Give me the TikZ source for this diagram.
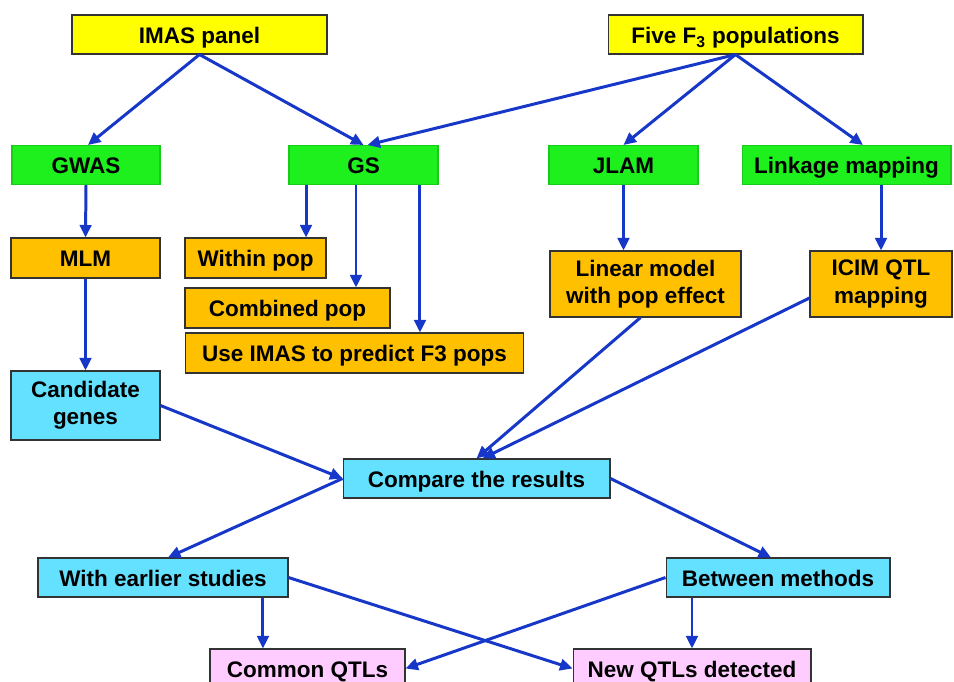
\documentclass[tikz,border=0pt]{standalone}
\usepackage{fontspec}
\setmainfont{Liberation Sans}
\usetikzlibrary{arrows.meta}
\definecolor{boxyellow}{RGB}{255,255,0}
\definecolor{boxgreen}{RGB}{30,240,30}
\definecolor{boxorange}{RGB}{255,192,0}
\definecolor{boxcyan}{RGB}{100,225,255}
\definecolor{boxpink}{RGB}{255,204,255}
\definecolor{arrowblue}{RGB}{22,55,200}
\begin{document}
\begin{tikzpicture}[x=0.02cm,y=-0.02cm,
    box/.style ={rectangle, inner sep=0pt, align=center, minimum height=0.78cm,
      text height=10.5pt, text depth=0.5pt,
      font=\fontsize{12.8}{15.5}\selectfont\bfseries, draw=black!80, line width=0.6pt},
    twolines/.style ={text height=, text depth=},
    source/.style ={box, fill=boxyellow},
    method/.style ={box, fill=boxgreen, draw=boxgreen!85!black},
    model/.style ={box, fill=boxorange},
    result/.style ={box, fill=boxcyan},
    finding/.style ={box, fill=boxpink},
    flow/.style ={arrowblue, line width=1.7pt, -{Triangle[length=0.25cm,width=0.23cm]}}]
   \useasboundingbox[fill=white] (0,0) rectangle (954,681);
   \node[source, minimum width=5.1cm] (imas) at (199.5,34.5) {IMAS panel};
   \node[source, minimum width=5.1cm] (five) at (735.5,34.5) {Five F\textsubscript{3} populations};
   \node[method, minimum width=2.96cm] (gwas) at (86,165) {GWAS};
   \node[method, minimum width=2.98cm] (gs) at (363.5,165) {GS};
   \node[method, minimum width=2.98cm] (jlam) at (623.5,165) {JLAM};
   \node[method, minimum width=4.18cm] (link) at (846.5,165) {Linkage mapping};
   \node[model, minimum width=2.98cm, minimum height=0.8cm] (mlm) at (85.5,258) {MLM};
   \node[model, minimum width=2.82cm, minimum height=0.8cm] (within) at (255.5,258) {Within pop};
   \node[model, minimum width=4.1cm, minimum height=0.8cm] (combined) at (287.5,308) {Combined pop};
   \node[model, minimum width=6.78cm, minimum height=0.8cm] (useimas) at (354.5,353) {Use IMAS to predict F3 pops};
   \node[result, twolines, minimum width=2.98cm, minimum height=1.38cm] (cand) at (85.5,405.5) {Candidate\\genes};
   \node[model, twolines, minimum width=3.82cm, minimum height=1.32cm] (linear) at (645.5,284) {Linear model\\with pop effect};
   \node[model, twolines, minimum width=2.84cm, minimum height=1.32cm] (icim) at (881,284) {ICIM QTL\\mapping};
   \node[result, minimum width=5.34cm] (compare) at (476.5,478.5) {Compare the results};
   \node[result, minimum width=5cm] (earlier) at (163,577.5) {With earlier studies};
   \node[result, minimum width=4.48cm] (between) at (778,577.5) {Between methods};
   \node[finding, minimum width=3.9cm] (common) at (307.5,668.5) {Common QTLs};
   \node[finding, minimum width=4.76cm] (newq) at (692,668.5) {New QTLs detected};
   % sources to methods
   \draw[flow] (imas.south) to ([xshift=0.04cm]gwas.north);
   \draw[flow] (imas.south) to (gs.north);
   \draw[flow] (five.south) to ([xshift=0.08cm]gs.north);
   \draw[flow] (five.south) to (jlam.north);
   \draw[flow] (five.south) to ([xshift=0.33cm]link.north);
   % methods to models
   \draw[flow] (gwas.south) to (mlm.north);
   \draw[flow] ([xshift=-1.15cm]gs.south) to ([xshift=-1.15cm]gs.south |- within.north);
   \draw[flow] ([xshift=-0.15cm]gs.south) to ([xshift=-0.15cm]gs.south |- combined.north);
   \draw[flow] ([xshift=1.13cm]gs.south) to ([xshift=1.13cm]gs.south |- useimas.north);
   \draw[flow] (jlam.south) to (jlam.south |- linear.north);
   \draw[flow] (icim.north |- link.south) to (icim.north);
   \draw[flow] (mlm.south) to (cand.north);
   % into the comparison
   \draw[flow] (cand.east) to (compare.west);
   \draw[flow] ([xshift=-0.1cm]linear.south) to (compare.north);
   \draw[flow] ([yshift=-0.28cm]icim.west) to ([xshift=0.12cm]compare.north);
   \draw[flow] (compare.west) to ([xshift=0.1cm]earlier.north);
   \draw[flow] (compare.east) to ([xshift=-0.14cm]between.north);
   % findings
   \draw[flow] ([xshift=2cm]earlier.south) to ([xshift=2cm]earlier.south |- common.north);
   \draw[flow] (earlier.east) to (newq.west);
   \draw[flow] (between.west) to (common.east);
   \draw[flow] (newq.north |- between.south) to (newq.north);
 \end{tikzpicture}
\end{document}
